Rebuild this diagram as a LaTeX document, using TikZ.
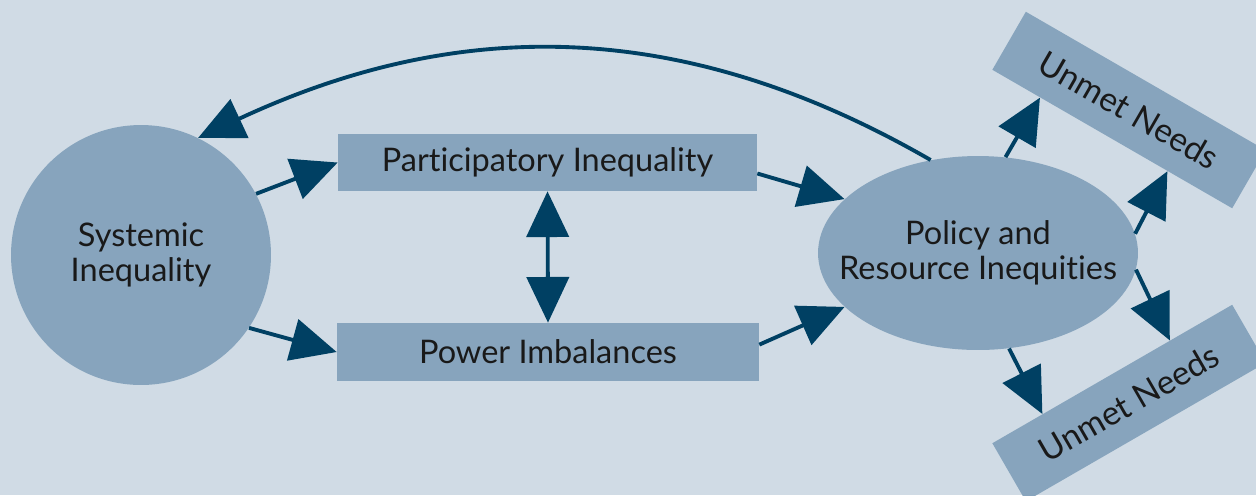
\documentclass[tikz,border=0pt]{standalone}
\usepackage{fontspec}
\setmainfont{Lato}[Ligatures=NoCommon]
\usetikzlibrary{arrows.meta,shapes.geometric,calc}
\definecolor{bgblue}{RGB}{208,219,229}
\definecolor{fillblue}{RGB}{135,164,189}
\definecolor{navy}{RGB}{0,64,99}
\tikzset{
    box/.style={fill=fillblue, inner sep=0pt, align=center, text=black!90,
        font=\fontsize{18.5}{20}\selectfont},
    arr/.style={navy, line width=2.2pt, -{Triangle[length=26pt,width=24pt]}},
}
\begin{document}
\begin{tikzpicture}[x=0.02cm, y=-0.02cm]
        \fill[bgblue] (0,0) rectangle (1256,495);
        \useasboundingbox (0,0) rectangle (1256,495);
        \node[box, circle, minimum size=5.2cm] (sys) at (141,255) {Systemic\\Inequality};
        \node[box, minimum width=8.38cm, minimum height=1.14cm] (part) at (547.5,162.5) {Participatory Inequality};
        \node[box, minimum width=8.44cm, minimum height=1.16cm] (power) at (548,352) {Power Imbalances};
        \node[box, ellipse, minimum width=6.4cm, minimum height=3.88cm, inner xsep=-0.6cm] (policy) at (978,253) {Policy and\\Resource Inequities};
        \node[box, rotate=-30, minimum width=5.54cm, minimum height=1.34cm,
            font=\fontsize{19}{22}\selectfont] (needA) at (1129,110) {Unmet Needs};
        \node[box, rotate=30, minimum width=5.54cm, minimum height=1.34cm,
            font=\fontsize{19}{22}\selectfont] (needB) at (1129,403) {Unmet Needs};
        % left half
        \draw[arr] (sys.28) -- (part.west);
        \draw[arr] (sys.-34) -- (power.west);
        \draw[arr, {Triangle[length=26pt,width=24pt]}-{Triangle[length=26pt,width=24pt]}] (part.south) -- (power.north);
        \draw[arr] (part.-3) -- (policy.158);
        \draw[arr] (power.2) -- (policy.202);
        % feedback loop
        \draw[arr] (policy.117) to[out=150, in=25] (sys.64);
        % out to the needs
        \draw[arr] (policy.74) -- ($(needA.south west)!0.2!(needA.south east)$);
        \draw[arr] (policy.7) -- ($(needA.south west)!0.73!(needA.south east)$);
        \draw[arr] (policy.-6) -- ($(needB.north west)!0.74!(needB.north east)$);
        \draw[arr] (policy.-72) -- ($(needB.north west)!0.21!(needB.north east)$);
    \end{tikzpicture}
\end{document}
